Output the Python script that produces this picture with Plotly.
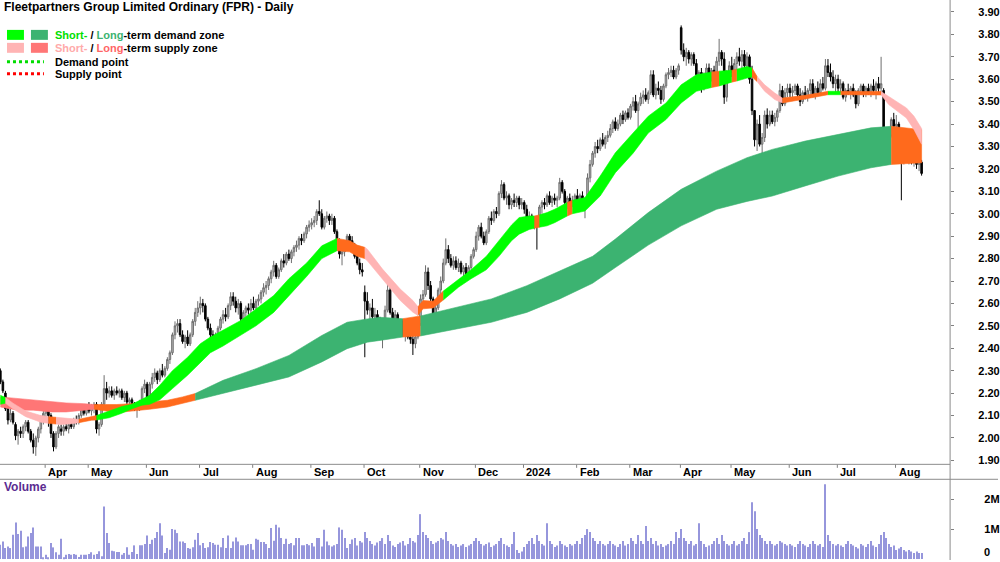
import numpy as np
import pandas as pd
import plotly.graph_objects as go

# ---------------- DATA ----------------
HOLIDAYS = ["2023-04-07", "2023-04-10", "2023-04-25", "2023-06-12", "2023-12-25",
            "2023-12-26", "2024-01-01", "2024-01-26", "2024-03-29", "2024-04-01",
            "2024-04-25", "2024-06-10"]
FIRST_DAY, LAST_DAY = "2023-03-08", "2024-08-15"

# daily (open, high, low, close) by month
MAR23 = [(2.30,2.31,2.24,2.25),(2.25,2.26,2.20,2.21),(2.20,2.21,2.12,2.13),(2.13,2.14,2.06,2.08),
         (2.08,2.13,2.07,2.11),(2.11,2.12,2.06,2.07),(2.06,2.07,1.99,2.01),(2.01,2.04,1.97,2.03),
         (2.03,2.05,2.00,2.02),(2.02,2.06,2.00,2.05),(2.05,2.08,2.03,2.07),(2.07,2.08,2.02,2.03),
         (2.03,2.04,1.98,1.99),(1.99,2.02,1.93,1.96),(1.96,2.01,1.92,2.00),(2.00,2.05,1.98,2.04),
         (2.04,2.10,2.02,2.09),(2.08,2.12,2.06,2.11)]
APR23 = [(2.11,2.16,2.08,2.14),(2.13,2.15,2.05,2.10),(2.10,2.11,2.00,2.02),(2.02,2.03,1.94,1.96),
         (1.96,2.03,1.95,2.02),(2.02,2.06,2.00,2.05),(2.04,2.06,2.01,2.03),(2.03,2.06,2.01,2.05),
         (2.05,2.07,2.03,2.04),(2.04,2.07,2.02,2.06),(2.06,2.08,2.04,2.05),(2.05,2.09,2.04,2.08),
         (2.08,2.10,2.06,2.07),(2.07,2.11,2.06,2.10),(2.10,2.14,2.09,2.13),(2.13,2.15,2.10,2.11),
         (2.11,2.15,2.10,2.14)]
MAY23 = [(2.14,2.16,2.11,2.12),(2.12,2.15,2.10,2.14),(2.14,2.16,2.11,2.15),(2.15,2.16,2.02,2.04),
         (2.04,2.07,2.01,2.06),(2.06,2.16,2.05,2.15),(2.15,2.28,2.14,2.22),(2.22,2.25,2.17,2.20),
         (2.20,2.23,2.18,2.21),(2.21,2.23,2.18,2.19),(2.19,2.22,2.17,2.21),(2.21,2.23,2.19,2.20),
         (2.20,2.22,2.18,2.21),(2.21,2.22,2.17,2.18),(2.18,2.21,2.16,2.20),(2.20,2.21,2.15,2.16),
         (2.16,2.18,2.14,2.17),(2.17,2.18,2.13,2.14),(2.14,2.16,2.12,2.13),(2.13,2.15,2.09,2.14),
         (2.14,2.17,2.12,2.16),(2.16,2.23,2.15,2.22),(2.22,2.26,2.20,2.24)]
JUN23 = [(2.24,2.25,2.17,2.18),(2.18,2.25,2.17,2.24),(2.24,2.29,2.22,2.27),(2.27,2.31,2.25,2.29),
         (2.29,2.30,2.24,2.26),(2.26,2.31,2.25,2.30),(2.30,2.33,2.27,2.28),(2.28,2.32,2.27,2.31),
         (2.31,2.36,2.30,2.35),(2.35,2.39,2.33,2.38),(2.38,2.47,2.37,2.46),(2.46,2.52,2.44,2.50),
         (2.50,2.53,2.47,2.51),(2.51,2.53,2.45,2.46),(2.46,2.48,2.42,2.43),(2.43,2.46,2.40,2.45),
         (2.45,2.48,2.41,2.42),(2.42,2.47,2.41,2.46),(2.46,2.53,2.45,2.52),(2.52,2.58,2.50,2.56),
         (2.56,2.61,2.54,2.58)]
JUL23 = [(2.58,2.63,2.55,2.60),(2.60,2.62,2.56,2.59),(2.59,2.60,2.52,2.53),(2.53,2.54,2.48,2.49),
         (2.49,2.51,2.44,2.46),(2.46,2.48,2.41,2.44),(2.44,2.47,2.40,2.46),(2.46,2.50,2.44,2.49),
         (2.49,2.54,2.48,2.53),(2.53,2.57,2.51,2.55),(2.55,2.58,2.52,2.54),(2.54,2.60,2.53,2.59),
         (2.59,2.65,2.57,2.63),(2.63,2.65,2.59,2.61),(2.61,2.63,2.56,2.58),(2.58,2.62,2.55,2.60),
         (2.60,2.61,2.52,2.53),(2.53,2.57,2.51,2.56),(2.56,2.59,2.54,2.58),(2.58,2.60,2.55,2.57),
         (2.57,2.62,2.55,2.60)]
AUG23 = [(2.60,2.63,2.57,2.58),(2.58,2.62,2.56,2.61),(2.61,2.64,2.59,2.62),(2.62,2.66,2.60,2.65),
         (2.65,2.69,2.63,2.67),(2.67,2.70,2.64,2.68),(2.68,2.72,2.66,2.71),(2.71,2.75,2.69,2.74),
         (2.74,2.79,2.72,2.77),(2.77,2.78,2.71,2.72),(2.72,2.76,2.71,2.75),(2.75,2.80,2.74,2.79),
         (2.79,2.82,2.76,2.78),(2.78,2.83,2.77,2.82),(2.82,2.84,2.79,2.80),(2.80,2.84,2.78,2.83),
         (2.83,2.86,2.81,2.85),(2.85,2.88,2.83,2.86),(2.86,2.90,2.84,2.89),(2.89,2.91,2.86,2.88),
         (2.88,2.92,2.87,2.91),(2.91,2.95,2.89,2.94),(2.94,2.97,2.92,2.95)]
SEP23 = [(2.95,2.98,2.93,2.96),(2.96,2.99,2.94,2.97),(2.97,3.02,2.95,3.01),(3.01,3.06,2.99,3.00),
         (3.00,3.02,2.93,2.94),(2.94,2.99,2.93,2.98),(2.98,3.01,2.96,2.99),(2.99,3.00,2.95,2.97),
         (2.97,3.00,2.95,2.98),(2.98,2.99,2.91,2.92),(2.92,2.93,2.86,2.88),(2.88,2.89,2.80,2.82),
         (2.82,2.85,2.77,2.83),(2.83,2.88,2.81,2.87),(2.87,2.91,2.85,2.90),(2.90,2.91,2.86,2.88),
         (2.88,2.90,2.84,2.86),(2.86,2.87,2.80,2.81),(2.81,2.83,2.77,2.78),(2.78,2.80,2.73,2.75),
         (2.75,2.78,2.72,2.74)]
OCT23 = [(2.65,2.68,2.36,2.61),(2.61,2.65,2.55,2.57),(2.57,2.60,2.52,2.58),(2.58,2.62,2.53,2.54),
         (2.54,2.58,2.50,2.55),(2.55,2.57,2.49,2.51),(2.51,2.54,2.44,2.46),(2.46,2.52,2.40,2.50),
         (2.50,2.59,2.48,2.57),(2.57,2.72,2.56,2.66),(2.66,2.68,2.55,2.56),(2.56,2.58,2.50,2.52),
         (2.52,2.57,2.49,2.55),(2.55,2.56,2.47,2.48),(2.48,2.53,2.47,2.52),(2.52,2.53,2.45,2.46),
         (2.46,2.50,2.43,2.49),(2.49,2.51,2.44,2.45),(2.45,2.48,2.42,2.44),(2.44,2.47,2.37,2.42),
         (2.42,2.46,2.40,2.45),(2.45,2.52,2.44,2.51)]
NOV23 = [(2.51,2.64,2.50,2.62),(2.62,2.66,2.58,2.64),(2.64,2.77,2.63,2.74),(2.74,2.76,2.66,2.68),
         (2.68,2.70,2.61,2.62),(2.62,2.63,2.52,2.54),(2.54,2.60,2.52,2.58),(2.58,2.67,2.57,2.66),
         (2.66,2.72,2.64,2.70),(2.70,2.80,2.69,2.78),(2.78,2.89,2.77,2.84),(2.84,2.86,2.78,2.80),
         (2.80,2.82,2.76,2.77),(2.77,2.81,2.75,2.79),(2.79,2.81,2.75,2.76),(2.76,2.80,2.74,2.78),
         (2.78,2.79,2.73,2.74),(2.74,2.77,2.72,2.76),(2.76,2.78,2.72,2.73),(2.73,2.77,2.72,2.76),
         (2.76,2.82,2.75,2.81),(2.81,2.85,2.80,2.84)]
DEC23 = [(2.84,2.92,2.83,2.90),(2.90,2.95,2.88,2.94),(2.94,2.96,2.89,2.90),(2.90,2.92,2.86,2.87),
         (2.87,2.93,2.86,2.92),(2.92,2.99,2.91,2.98),(2.98,3.01,2.95,2.97),(2.97,3.02,2.96,3.01),
         (3.01,3.03,2.98,3.00),(3.00,3.10,2.99,3.09),(3.09,3.15,3.07,3.13),(3.13,3.14,3.06,3.07),
         (3.07,3.10,3.04,3.08),(3.08,3.09,3.02,3.04),(3.04,3.07,3.02,3.06),(3.06,3.09,3.03,3.05),
         (3.05,3.08,3.03,3.07),(3.07,3.08,3.02,3.04),(3.04,3.07,3.02,3.05)]
JAN24 = [(3.05,3.06,3.00,3.02),(3.02,3.04,2.97,2.98),(2.98,3.01,2.95,2.99),(2.99,3.00,2.95,2.96),
         (2.96,2.99,2.93,2.97),(2.97,2.98,2.84,2.95),(2.95,3.04,2.94,3.03),(3.03,3.06,3.00,3.05),
         (3.05,3.07,3.02,3.04),(3.04,3.09,3.03,3.08),(3.08,3.10,3.04,3.05),(3.05,3.08,3.03,3.07),
         (3.07,3.09,3.04,3.06),(3.06,3.08,3.03,3.07),(3.07,3.16,3.06,3.14),(3.14,3.15,3.09,3.10),
         (3.10,3.11,3.04,3.05),(3.05,3.08,3.02,3.07),(3.07,3.09,3.04,3.05),(3.05,3.08,3.03,3.06),
         (3.06,3.09,3.04,3.08)]
FEB24 = [(3.08,3.11,3.05,3.06),(3.06,3.09,3.04,3.08),(3.08,3.10,3.04,3.05),(3.05,3.07,2.98,3.06),
         (3.06,3.18,3.05,3.16),(3.16,3.24,3.14,3.22),(3.22,3.28,3.21,3.27),(3.27,3.32,3.25,3.30),
         (3.30,3.33,3.27,3.29),(3.29,3.34,3.28,3.33),(3.33,3.36,3.30,3.31),(3.31,3.35,3.29,3.34),
         (3.34,3.37,3.32,3.35),(3.35,3.40,3.34,3.38),(3.38,3.42,3.36,3.41),(3.41,3.43,3.37,3.38),
         (3.38,3.42,3.37,3.40),(3.40,3.45,3.39,3.44),(3.44,3.46,3.40,3.42),(3.42,3.46,3.41,3.45),
         (3.45,3.47,3.42,3.43)]
MAR24 = [(3.43,3.49,3.42,3.48),(3.48,3.52,3.46,3.50),(3.50,3.53,3.45,3.46),(3.46,3.50,3.38,3.49),
         (3.49,3.54,3.48,3.52),(3.52,3.55,3.49,3.53),(3.53,3.56,3.50,3.51),(3.51,3.55,3.49,3.54),
         (3.54,3.64,3.53,3.62),(3.62,3.64,3.52,3.53),(3.53,3.58,3.51,3.56),(3.56,3.59,3.53,3.55),
         (3.55,3.57,3.49,3.51),(3.51,3.58,3.50,3.57),(3.57,3.63,3.56,3.62),(3.62,3.65,3.60,3.63),
         (3.63,3.66,3.61,3.64),(3.64,3.66,3.60,3.61),(3.61,3.65,3.60,3.64),(3.64,3.67,3.62,3.66)]
APR24 = [(3.83,3.84,3.71,3.73),(3.73,3.76,3.68,3.70),(3.70,3.74,3.66,3.72),(3.72,3.73,3.67,3.69),
         (3.69,3.72,3.66,3.71),(3.71,3.72,3.66,3.67),(3.67,3.69,3.60,3.62),(3.62,3.64,3.58,3.63),
         (3.63,3.65,3.54,3.56),(3.56,3.63,3.55,3.62),(3.62,3.67,3.60,3.65),(3.65,3.67,3.60,3.61),
         (3.61,3.65,3.59,3.64),(3.64,3.66,3.61,3.62),(3.62,3.70,3.58,3.68),(3.68,3.78,3.66,3.72),
         (3.72,3.73,3.66,3.69),(3.69,3.72,3.49,3.52),(3.52,3.64,3.50,3.62),(3.62,3.68,3.60,3.66)]
MAY24 = [(3.66,3.70,3.61,3.63),(3.63,3.69,3.62,3.67),(3.67,3.72,3.64,3.70),(3.70,3.74,3.66,3.68),
         (3.68,3.73,3.64,3.71),(3.71,3.73,3.65,3.66),(3.66,3.72,3.64,3.70),(3.70,3.71,3.58,3.60),
         (3.60,3.66,3.44,3.46),(3.46,3.46,3.30,3.33),(3.33,3.42,3.28,3.40),(3.40,3.44,3.30,3.31),
         (3.31,3.36,3.20,3.34),(3.34,3.46,3.32,3.44),(3.44,3.47,3.38,3.40),(3.40,3.46,3.39,3.44),
         (3.44,3.46,3.40,3.41),(3.41,3.45,3.39,3.43),(3.43,3.47,3.41,3.46),(3.46,3.58,3.45,3.55),
         (3.55,3.57,3.48,3.49),(3.49,3.56,3.48,3.54),(3.54,3.58,3.52,3.56)]
JUN24 = [(3.56,3.58,3.52,3.54),(3.54,3.57,3.52,3.55),(3.55,3.58,3.53,3.57),(3.57,3.58,3.52,3.53),
         (3.53,3.56,3.48,3.50),(3.50,3.55,3.49,3.54),(3.54,3.57,3.51,3.52),(3.52,3.56,3.50,3.55),
         (3.55,3.60,3.53,3.58),(3.58,3.60,3.52,3.53),(3.53,3.57,3.51,3.56),(3.56,3.59,3.53,3.54),
         (3.54,3.60,3.53,3.58),(3.58,3.61,3.55,3.56),(3.56,3.69,3.55,3.66),(3.66,3.69,3.61,3.63),
         (3.63,3.67,3.59,3.61),(3.61,3.64,3.56,3.58),(3.58,3.62,3.54,3.60)]
JUL24 = [(3.60,3.62,3.54,3.56),(3.56,3.60,3.54,3.58),(3.58,3.59,3.51,3.52),(3.52,3.56,3.50,3.55),
         (3.55,3.58,3.53,3.54),(3.54,3.57,3.51,3.56),(3.56,3.58,3.52,3.53),(3.53,3.55,3.47,3.49),
         (3.49,3.56,3.48,3.55),(3.55,3.58,3.53,3.57),(3.57,3.58,3.52,3.54),(3.54,3.57,3.52,3.56),
         (3.56,3.58,3.53,3.54),(3.54,3.58,3.52,3.57),(3.57,3.60,3.53,3.55),(3.55,3.59,3.51,3.58),
         (3.58,3.61,3.54,3.56),(3.56,3.70,3.54,3.58),(3.55,3.56,3.31,3.33),(3.33,3.38,3.23,3.26),
         (3.26,3.36,3.25,3.35),(3.35,3.43,3.34,3.42),(3.42,3.45,3.37,3.39)]
AUG24 = [(3.39,3.44,3.36,3.40),(3.40,3.41,3.24,3.26),(3.26,3.28,3.06,3.24),(3.24,3.29,3.22,3.27),
         (3.27,3.29,3.23,3.24),(3.24,3.28,3.22,3.26),(3.26,3.28,3.22,3.23),(3.23,3.27,3.21,3.25),
         (3.25,3.26,3.20,3.22),(3.22,3.25,3.19,3.23),(3.23,3.24,3.17,3.18)]

# daily volume, thousands of shares
VOL_MAR_SEP23 = [478,589,367,422,367,811,1222,833,944,389, 422,756,867,1056,422,422,422,60,144,60,
                 533,389,222,144,678,60,144,167,144,167, 144,70,144,144,144,167,222,144,167,256,
                 89,1756,867,533,278,256,233,233,144,200, 389,144,233,456,167,456,456,500,789,500,
                 644,700,900,1200,789,200,367,311,1000,978, 867,589,589,533,367,344,389,644,867,456,
                 533,367,389,567,533,478,478,389,700,367, 789,367,589,722,589,456,456,456,500,500,
                 311,678,644,567,567,500,367,1033,611,1144, 1056,700,500,678,500,533,456,700,700,456,
                 456,500,456,533,422,700,700,422,978,589, 456,422,456,500,1056,978,700,367,
                 500,650,700,450,600,550]
VOL_OCT23 = [900,700,600,500,450,550,600,700,500,800,600,450,400,500,550,600,450,500,700,600,550,800]
VOL_NOV23 = [1500,900,800,700,600,500,550,600,700,650,900,600,500,450,500,400,450,500,400,450,500,600]
VOL_DEC23 = [700,600,500,450,500,550,400,450,500,600,700,500,450,400,500,900,300,200,250]
VOL_JAN24 = [400,500,600,700,500,800,600,500,450,1200,600,500,400,450,600,500,450,400,500,450,500]
VOL_FEB24 = [600,500,700,800,1000,900,700,600,500,600,500,450,500,600,500,450,400,500,600,450,500]
VOL_MAR24 = [700,600,500,800,600,500,1100,600,700,500,600,450,500,400,450,500,600,500,900,700]
VOL_APR24 = [1000,700,600,500,600,450,500,1200,600,500,400,450,500,600,700,500,800,600,500,450]
VOL_MAY24 = [500,600,450,500,600,700,500,900,1900,1600,1000,800,700,600,500,600,500,450,500,600,550,500,450]
VOL_JUN24 = [500,450,400,500,600,500,450,400,500,600,500,450,500,400,2500,800,600,500,450]
VOL_JUL24 = [500,450,400,500,600,500,450,400,350,500,450,400,500,600,450,400,500,800,900,700,500,400,450]
VOL_AUG24 = [300,350,400,300,250,300,250,200,250,200,200]

# short-term zone: sample date, lower edge, upper edge, state from this date on
ST_DATES = ["2023-03-08","2023-03-10","2023-03-15","2023-03-22","2023-03-30","2023-04-04","2023-04-11",
            "2023-04-13","2023-04-19","2023-04-24","2023-05-02","2023-05-04","2023-05-11","2023-05-18",
            "2023-05-24","2023-05-30","2023-06-02","2023-06-08","2023-06-16","2023-06-26","2023-07-03",
            "2023-07-07","2023-07-14","2023-07-25","2023-08-02","2023-08-11","2023-08-21","2023-08-30",
            "2023-09-07","2023-09-15","2023-09-22","2023-09-27","2023-10-02","2023-10-03","2023-10-11",
            "2023-10-20","2023-10-27","2023-10-31","2023-11-02","2023-11-08","2023-11-14","2023-11-22",
            "2023-11-29","2023-12-07","2023-12-14","2023-12-21","2023-12-28","2024-01-04","2024-01-08",
            "2024-01-10","2024-01-15","2024-01-18","2024-01-25","2024-01-30","2024-02-06","2024-02-14",
            "2024-02-22","2024-03-04","2024-03-12","2024-03-21","2024-04-02","2024-04-10","2024-04-18",
            "2024-04-23","2024-05-01","2024-05-03","2024-05-09","2024-05-13","2024-05-15","2024-05-20",
            "2024-05-24","2024-05-29","2024-06-12","2024-06-25","2024-07-02","2024-07-12","2024-07-24",
            "2024-07-29","2024-08-07","2024-08-12","2024-08-15"]
ST_LO = [2.15,2.155,2.13,2.095,2.07,2.065,2.062,2.06,2.063,2.068,2.079,2.08,2.09,2.11,2.13,2.146,2.15,
         2.17,2.22,2.28,2.335,2.38,2.41,2.457,2.50,2.56,2.635,2.72,2.80,2.835,2.83,2.81,2.80,2.79,2.71,
         2.613,2.561,2.546,2.576,2.58,2.615,2.672,2.71,2.75,2.81,2.88,2.909,2.93,2.935,2.94,2.946,2.96,
         2.99,3.00,3.012,3.079,3.183,3.27,3.36,3.42,3.494,3.546,3.563,3.57,3.587,3.592,3.605,3.61,3.59,
         3.546,3.509,3.494,3.512,3.531,3.531,3.53,3.53,3.487,3.427,3.375,3.31]
ST_HI = [2.19,2.18,2.155,2.12,2.10,2.095,2.092,2.09,2.083,2.083,2.094,2.10,2.12,2.14,2.15,2.175,2.19,
         2.235,2.30,2.36,2.42,2.45,2.48,2.524,2.575,2.635,2.71,2.78,2.857,2.89,2.88,2.86,2.85,2.842,2.753,
         2.664,2.613,2.585,2.613,2.61,2.655,2.709,2.75,2.81,2.88,2.95,2.983,2.99,2.99,2.995,3.005,3.02,
         3.05,3.06,3.072,3.168,3.272,3.36,3.435,3.494,3.575,3.62,3.632,3.636,3.64,3.645,3.657,3.65,3.612,
         3.575,3.538,3.516,3.528,3.546,3.546,3.545,3.545,3.524,3.472,3.435,3.38]
ST_STATE = ["D","S","S","S","S","M","S","S","S","M","M","D","D","D","D","D","D","D","D","D","D",
            "D","D","D","D","D","D","D","D","M","M","M","S","S","S","S","S","M","M","M","D","D",
            "D","D","D","D","D","D","M","D","D","D","M","D","D","D","D","D","D","D","D","D","M",
            "D","M","D","D","M","S","S","S","M","M","D","M","M","S","S","S","S","S"]

# long-term zone
LT_DATES = ["2023-03-08","2023-03-17","2023-03-27","2023-04-05","2023-04-17","2023-04-27","2023-05-03",
            "2023-05-16","2023-05-24","2023-06-02","2023-06-14","2023-06-22","2023-06-29","2023-07-14",
            "2023-08-02","2023-08-21","2023-09-07","2023-09-21","2023-10-03","2023-10-10","2023-10-23",
            "2023-11-01","2023-11-22","2023-12-11","2024-01-03","2024-01-22","2024-02-09","2024-02-22",
            "2024-03-12","2024-04-02","2024-04-22","2024-05-09","2024-05-23","2024-06-12","2024-07-01",
            "2024-07-18","2024-07-30","2024-08-15"]
LT_LO = [2.138,2.124,2.124,2.116,2.116,2.124,2.128,2.113,2.119,2.128,2.138,2.153,2.168,2.198,2.235,
         2.272,2.339,2.398,2.427,2.435,2.45,2.455,2.487,2.516,2.56,2.62,2.69,2.76,2.86,2.946,3.02,
         3.055,3.079,3.124,3.168,3.205,3.22,3.227]
LT_HI = [2.183,2.175,2.168,2.16,2.156,2.153,2.149,2.149,2.153,2.16,2.168,2.183,2.198,2.257,2.309,
         2.368,2.457,2.516,2.531,2.538,2.532,2.544,2.583,2.62,2.679,2.746,2.81,2.887,3.005,3.109,3.19,
         3.25,3.287,3.324,3.353,3.383,3.39,3.375]
LT_STATE = ["S","S","S","S","S","S","M","M","M","M","M","M","D","D","D","D","D","D","D","D","M",
            "D","D","D","D","D","D","D","D","D","D","D","D","D","D","D","M","M"]

MONTH_LABELS = ["Apr","May","Jun","Jul","Aug","Sep","Oct","Nov","Dec","2024",
                "Feb","Mar","Apr","May","Jun","Jul","Aug"]
PRICE_TICKS = [1.9,2.0,2.1,2.2,2.3,2.4,2.5,2.6,2.7,2.8,2.9,3.0,3.1,3.2,3.3,3.4,3.5,3.6,3.7,3.8,3.9]
VOL_TICKS = [0, 1e6, 2e6]
VOL_TICK_TEXT = ["0", "1M", "2M"]

# ---------------- BUILD ----------------
dates = pd.bdate_range(FIRST_DAY, LAST_DAY)
dates = dates[~dates.isin(pd.to_datetime(HOLIDAYS))]
rows = (MAR23 + APR23 + MAY23 + JUN23 + JUL23 + AUG23 + SEP23 + OCT23 + NOV23 + DEC23 +
        JAN24 + FEB24 + MAR24 + APR24 + MAY24 + JUN24 + JUL24 + AUG24)
vol = (VOL_MAR_SEP23 + VOL_OCT23 + VOL_NOV23 + VOL_DEC23 + VOL_JAN24 + VOL_FEB24 + VOL_MAR24 +
       VOL_APR24 + VOL_MAY24 + VOL_JUN24 + VOL_JUL24 + VOL_AUG24)
assert len(dates) == len(rows) == len(vol), (len(dates), len(rows), len(vol))
assert len(ST_DATES) == len(ST_LO) == len(ST_HI) == len(ST_STATE)
assert len(LT_DATES) == len(LT_LO) == len(LT_HI) == len(LT_STATE)

idx = np.arange(len(dates))
O = [r[0] for r in rows]; Hh = [r[1] for r in rows]; L = [r[2] for r in rows]; C = [r[3] for r in rows]


def pos(d):
    return int(dates.searchsorted(pd.Timestamp(d)))


W, H = 1000, 562
PLOT_RIGHT = 952 / W


def py(yp):
    return 1 - yp / H


FONT = "Liberation Sans, Arial, sans-serif"
axis_font = dict(family=FONT, size=11, color="#000000", weight="bold")

fig = go.Figure()


def add_band(dts, lo, hi, st, colors):
    xs = [pos(d) for d in dts]
    n = len(xs)
    k = 0
    while k < n - 1:
        s = st[k]
        j = k
        while j + 1 < n - 1 and st[j + 1] == s:
            j += 1
        seg = list(range(k, j + 2))
        xx = [xs[m] for m in seg]
        yy = [hi[m] for m in seg] + [lo[m] for m in seg][::-1]
        fig.add_trace(go.Scatter(x=xx + xx[::-1], y=yy, fill="toself", fillcolor=colors[s],
                                 mode="lines", line=dict(width=0.6, color=colors[s]),
                                 hoverinfo="skip", showlegend=False, xaxis="x", yaxis="y"))
        k = j + 1


ORANGE = "#ff6a1c"
add_band(LT_DATES, LT_LO, LT_HI, LT_STATE, {"D": "#3cb371", "S": "#ff7676", "M": ORANGE})
add_band(ST_DATES, ST_LO, ST_HI, ST_STATE, {"D": "#00ff00", "S": "#ffb4b4", "M": ORANGE})

fig.add_trace(go.Candlestick(
    x=idx, open=O, high=Hh, low=L, close=C, xaxis="x", yaxis="y",
    increasing=dict(line=dict(color="#6e6e6e", width=1), fillcolor="#bdbdbd"),
    decreasing=dict(line=dict(color="#000000", width=1), fillcolor="#000000"),
    whiskerwidth=0, showlegend=False, hoverinfo="skip"))

fig.add_trace(go.Bar(x=idx, y=[v * 1000 for v in vol], xaxis="x2", yaxis="y2",
                     marker=dict(color="#9696dc", line=dict(width=0)), width=0.42,
                     showlegend=False, hoverinfo="skip"))

# month ticks and labels on the date strip
month_starts = [i for i in range(1, len(dates)) if dates[i].month != dates[i - 1].month]
shapes = []
annotations = []
for i, lab in zip(month_starts, MONTH_LABELS):
    shapes.append(dict(type="line", xref="x", yref="paper", x0=i - 0.3, x1=i - 0.3,
                       y0=py(466), y1=py(469.5), line=dict(color="#808080", width=1)))
    annotations.append(dict(x=i - 0.3, xref="x", y=py(474), yref="paper", text=lab,
                            showarrow=False, xanchor="left", yanchor="middle", xshift=1,
                            font=axis_font))

# frame lines
shapes += [
    dict(type="line", xref="paper", yref="paper", x0=0, x1=PLOT_RIGHT, y0=py(466), y1=py(466),
         line=dict(color="#8c8c8c", width=1)),
    dict(type="line", xref="paper", yref="paper", x0=0, x1=1, y0=py(481), y1=py(481),
         line=dict(color="#8c8c8c", width=1)),
    dict(type="line", xref="paper", yref="paper", x0=PLOT_RIGHT, x1=PLOT_RIGHT, y0=0, y1=1,
         line=dict(color="#8c8c8c", width=1)),
]


def rect(x0, y0, x1, y1, col):
    return dict(type="rect", xref="paper", yref="paper", x0=x0 / W, x1=x1 / W, y0=py(y1), y1=py(y0),
                fillcolor=col, line=dict(width=0))


shapes += [rect(7, 30, 24, 40, "#00ff00"), rect(31, 30, 48, 40, "#3cb371"),
           rect(7, 43, 24, 53, "#ffb4b4"), rect(31, 43, 48, 53, "#ff7676"),
           dict(type="line", xref="paper", yref="paper", x0=7 / W, x1=44 / W, y0=py(62), y1=py(62),
                line=dict(color="#00dd00", width=3, dash="dot")),
           dict(type="line", xref="paper", yref="paper", x0=7 / W, x1=44 / W, y0=py(74), y1=py(74),
                line=dict(color="#ff0000", width=3, dash="dot"))]


def txt(x, y, s, size=11, color="#000000", anchor="left", yanchor="middle"):
    return dict(x=x / W, y=py(y), xref="paper", yref="paper", text=s, showarrow=False,
                xanchor=anchor, yanchor=yanchor,
                font=dict(family=FONT, size=size, color=color, weight="bold"))


annotations += [
    txt(2, 7, "Fleetpartners Group Limited Ordinary (FPR) - Daily", 12),
    txt(53, 35, "<span style='color:#00e000'>Short-</span> / <span style='color:#3cb371'>Long</span>-term demand zone"),
    txt(53, 48, "<span style='color:#ffaaaa'>Short-</span> / <span style='color:#ff6666'>Long</span>-term supply zone"),
    txt(53, 62, "Demand point"),
    txt(53, 74, "Supply point"),
    txt(2, 489, "Volume", 12, "#5b2c91"),
    # lowest volume tick label, lifted just inside the page edge
    txt(989, 562, VOL_TICK_TEXT[0], 11, "#000000", "center", "bottom"),
]

fig.update_layout(
    width=W, height=H, margin=dict(l=0, r=0, t=0, b=0),
    paper_bgcolor="#ffffff", plot_bgcolor="#ffffff",
    showlegend=False, hovermode=False, boxgap=0.12,
    xaxis=dict(domain=[0, PLOT_RIGHT], range=[-0.14, 375.26], showticklabels=False, ticks="",
               showgrid=False, zeroline=False, rangeslider=dict(visible=False), anchor="y"),
    xaxis2=dict(domain=[0, PLOT_RIGHT], matches="x", showticklabels=False, ticks="",
                showgrid=False, zeroline=False, anchor="y2"),
    yaxis=dict(domain=[py(466), 1], range=[1.90 - 4 / 225, 3.90 + 12 / 225], side="right",
               tickvals=PRICE_TICKS, ticktext=[f"{v:.2f}" for v in PRICE_TICKS],
               ticks="outside", ticklen=3, tickcolor="#808080", showgrid=False, zeroline=False,
               showline=False, tickfont=axis_font, ticklabelstandoff=22, anchor="x"),
    yaxis2=dict(domain=[0, py(482)], range=[-1e6 / 30, (561 - 482) / 30 * 1e6], side="right",
                tickvals=VOL_TICKS[1:], ticktext=VOL_TICK_TEXT[1:],
                ticks="outside", ticklen=3, tickcolor="#808080", showgrid=False, zeroline=False,
                showline=False, tickfont=axis_font, ticklabelstandoff=28, anchor="x2"),
    shapes=shapes, annotations=annotations,
)

fig.write_html("out.html")
